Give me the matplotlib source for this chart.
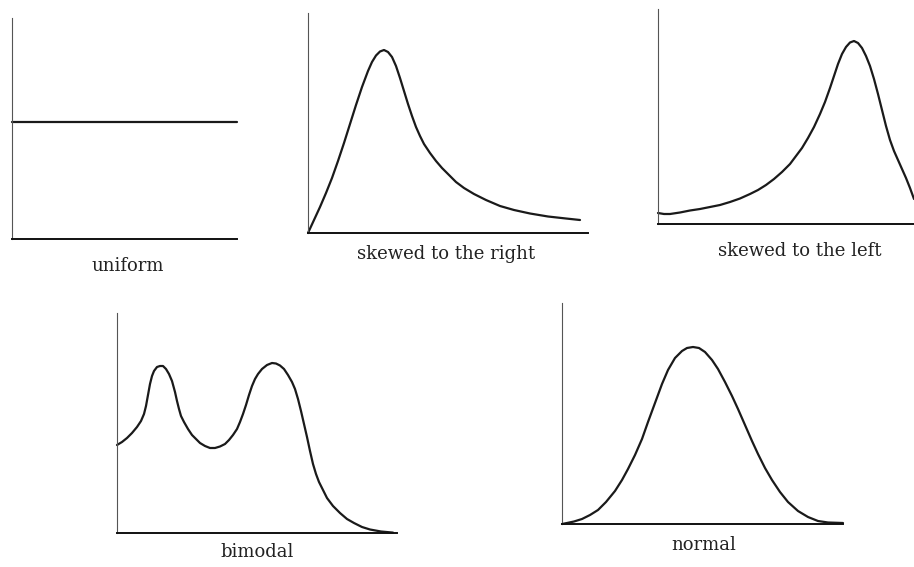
import matplotlib
matplotlib.use("Agg")
import matplotlib.pyplot as plt

plt.rcParams.update({
    "font.family": "serif",
    "font.serif": ["DejaVu Serif", "Liberation Serif"],
    "font.size": 13,
})

W, H = 914, 567

# curve shapes: x from the left axis, y = height above the baseline (same units)
uniform_x = [0, 225]
uniform_y = [117, 117]

right_x = [0, 6, 12, 18, 24, 30, 36, 42, 48, 54, 60, 64, 68, 72, 76, 80,
           84, 88, 92, 96, 100, 104, 108, 112, 116, 122, 128, 134, 140,
           148, 156, 166, 178, 192, 206, 222, 240, 258, 272]
right_y = [0, 13, 26, 40, 55, 72, 90, 109, 128, 146, 162, 171, 177.5,
           181.5, 183, 181, 176, 167, 155, 142, 129, 117, 106, 97, 89, 80,
           72, 65, 59, 51, 45, 39, 33, 27, 23, 19.5, 16.5, 14.5, 13]

left_x = [0, 6, 12, 22, 32, 42, 52, 62, 72, 82, 92, 100, 108, 116, 124,
          132, 138, 144, 150, 156, 162, 167, 172, 176, 180, 184, 188, 192,
          196, 200, 204, 208, 212, 216, 220, 224, 228, 232, 236, 240, 244,
          248, 252, 256]
left_y = [11, 10, 10, 11.5, 13.5, 15, 17, 19, 22, 25.5, 30, 34, 39, 45, 52,
          60, 68, 76, 86, 97, 110, 122, 136, 148, 160, 170, 177, 181.5, 183,
          181, 176, 168, 158, 145, 130, 114, 98, 84, 73, 64, 55, 46, 36, 25]

bimodal_x = [0, 5, 10, 15, 20, 24, 27, 29, 31, 33, 35, 37, 40, 43, 46, 49,
             52, 55, 58, 60, 62, 64, 67, 71, 75, 79, 83, 88, 93, 98, 103,
             108, 112, 116, 120, 123, 126, 129, 132, 135, 138, 141, 145, 150,
             155, 159, 163, 167, 171, 175, 178, 181, 184, 187, 190, 193, 196,
             199, 202, 206, 210, 216, 223, 230, 237, 245, 253, 264, 276]
bimodal_y = [88, 91, 95, 100, 106, 112, 119, 127, 138, 149, 157, 162, 166,
             167, 167, 164, 159, 152, 141, 132, 124, 117, 111, 104, 98, 94,
             90, 87, 85, 85, 86.5, 89, 93, 98, 104, 111, 119, 128, 138, 147,
             154, 159, 164, 168, 170, 169.5, 167.5, 164, 158, 151, 144, 134,
             122, 109, 96, 82, 69, 59, 51, 43, 35, 27, 20, 14, 10, 6, 3.5,
             1.5, 0.4]

normal_x = [0, 5, 12, 20, 28, 36, 44, 53, 60, 66, 73, 80, 86, 93, 100, 106,
            113, 120, 125, 131, 137, 143, 150, 156, 163, 170, 176, 183, 190,
            196, 203, 210, 218, 226, 236, 246, 256, 266, 281]
normal_y = [0, 1, 2.5, 5, 9, 14, 22, 33, 44, 55, 69, 85, 102, 121, 140, 154,
            166, 173, 176, 177, 176, 172, 164, 155, 142, 128, 115, 99, 83,
            70, 56, 44, 32, 22, 13, 7, 3, 1.5, 1]

labels = ["uniform", "skewed to the right", "skewed to the left",
          "bimodal", "normal"]

# panel boxes in pixels: left, top, right, bottom; label centre
panels = [
    (uniform_x, uniform_y, (12, 18, 237, 239), (128, 266)),
    (right_x, right_y, (308, 13, 588, 233), (446, 254)),
    (left_x, left_y, (658, 9, 914, 224), (800, 251)),
    (bimodal_x, bimodal_y, (117, 313, 397, 533), (257, 552)),
    (normal_x, normal_y, (562, 303, 843, 524), (704, 545)),
]

fig = plt.figure(figsize=(W / 100, H / 100), dpi=100)

for (xs, ys, box, lab_pos), lab in zip(panels, labels):
    l, t, r, b = box
    ax = fig.add_axes([l / W, 1 - b / H, (r - l) / W, (b - t) / H])
    ax.plot(xs, ys, color="#1a1a1a", lw=1.6, solid_capstyle="round",
            solid_joinstyle="round", clip_on=False)
    ax.set_xlim(0, r - l)
    ax.set_ylim(0, b - t)
    ax.set_xticks([])
    ax.set_yticks([])
    for s in ("top", "right"):
        ax.spines[s].set_visible(False)
    ax.spines["left"].set_linewidth(0.8)
    ax.spines["left"].set_color("#555555")
    ax.spines["bottom"].set_linewidth(1.4)
    ax.spines["bottom"].set_color("#111111")
    ax.patch.set_alpha(0)
    fig.text(lab_pos[0] / W, 1 - lab_pos[1] / H, lab, ha="center",
             va="center", color="#222222")

fig.savefig("out.png", dpi=100)
